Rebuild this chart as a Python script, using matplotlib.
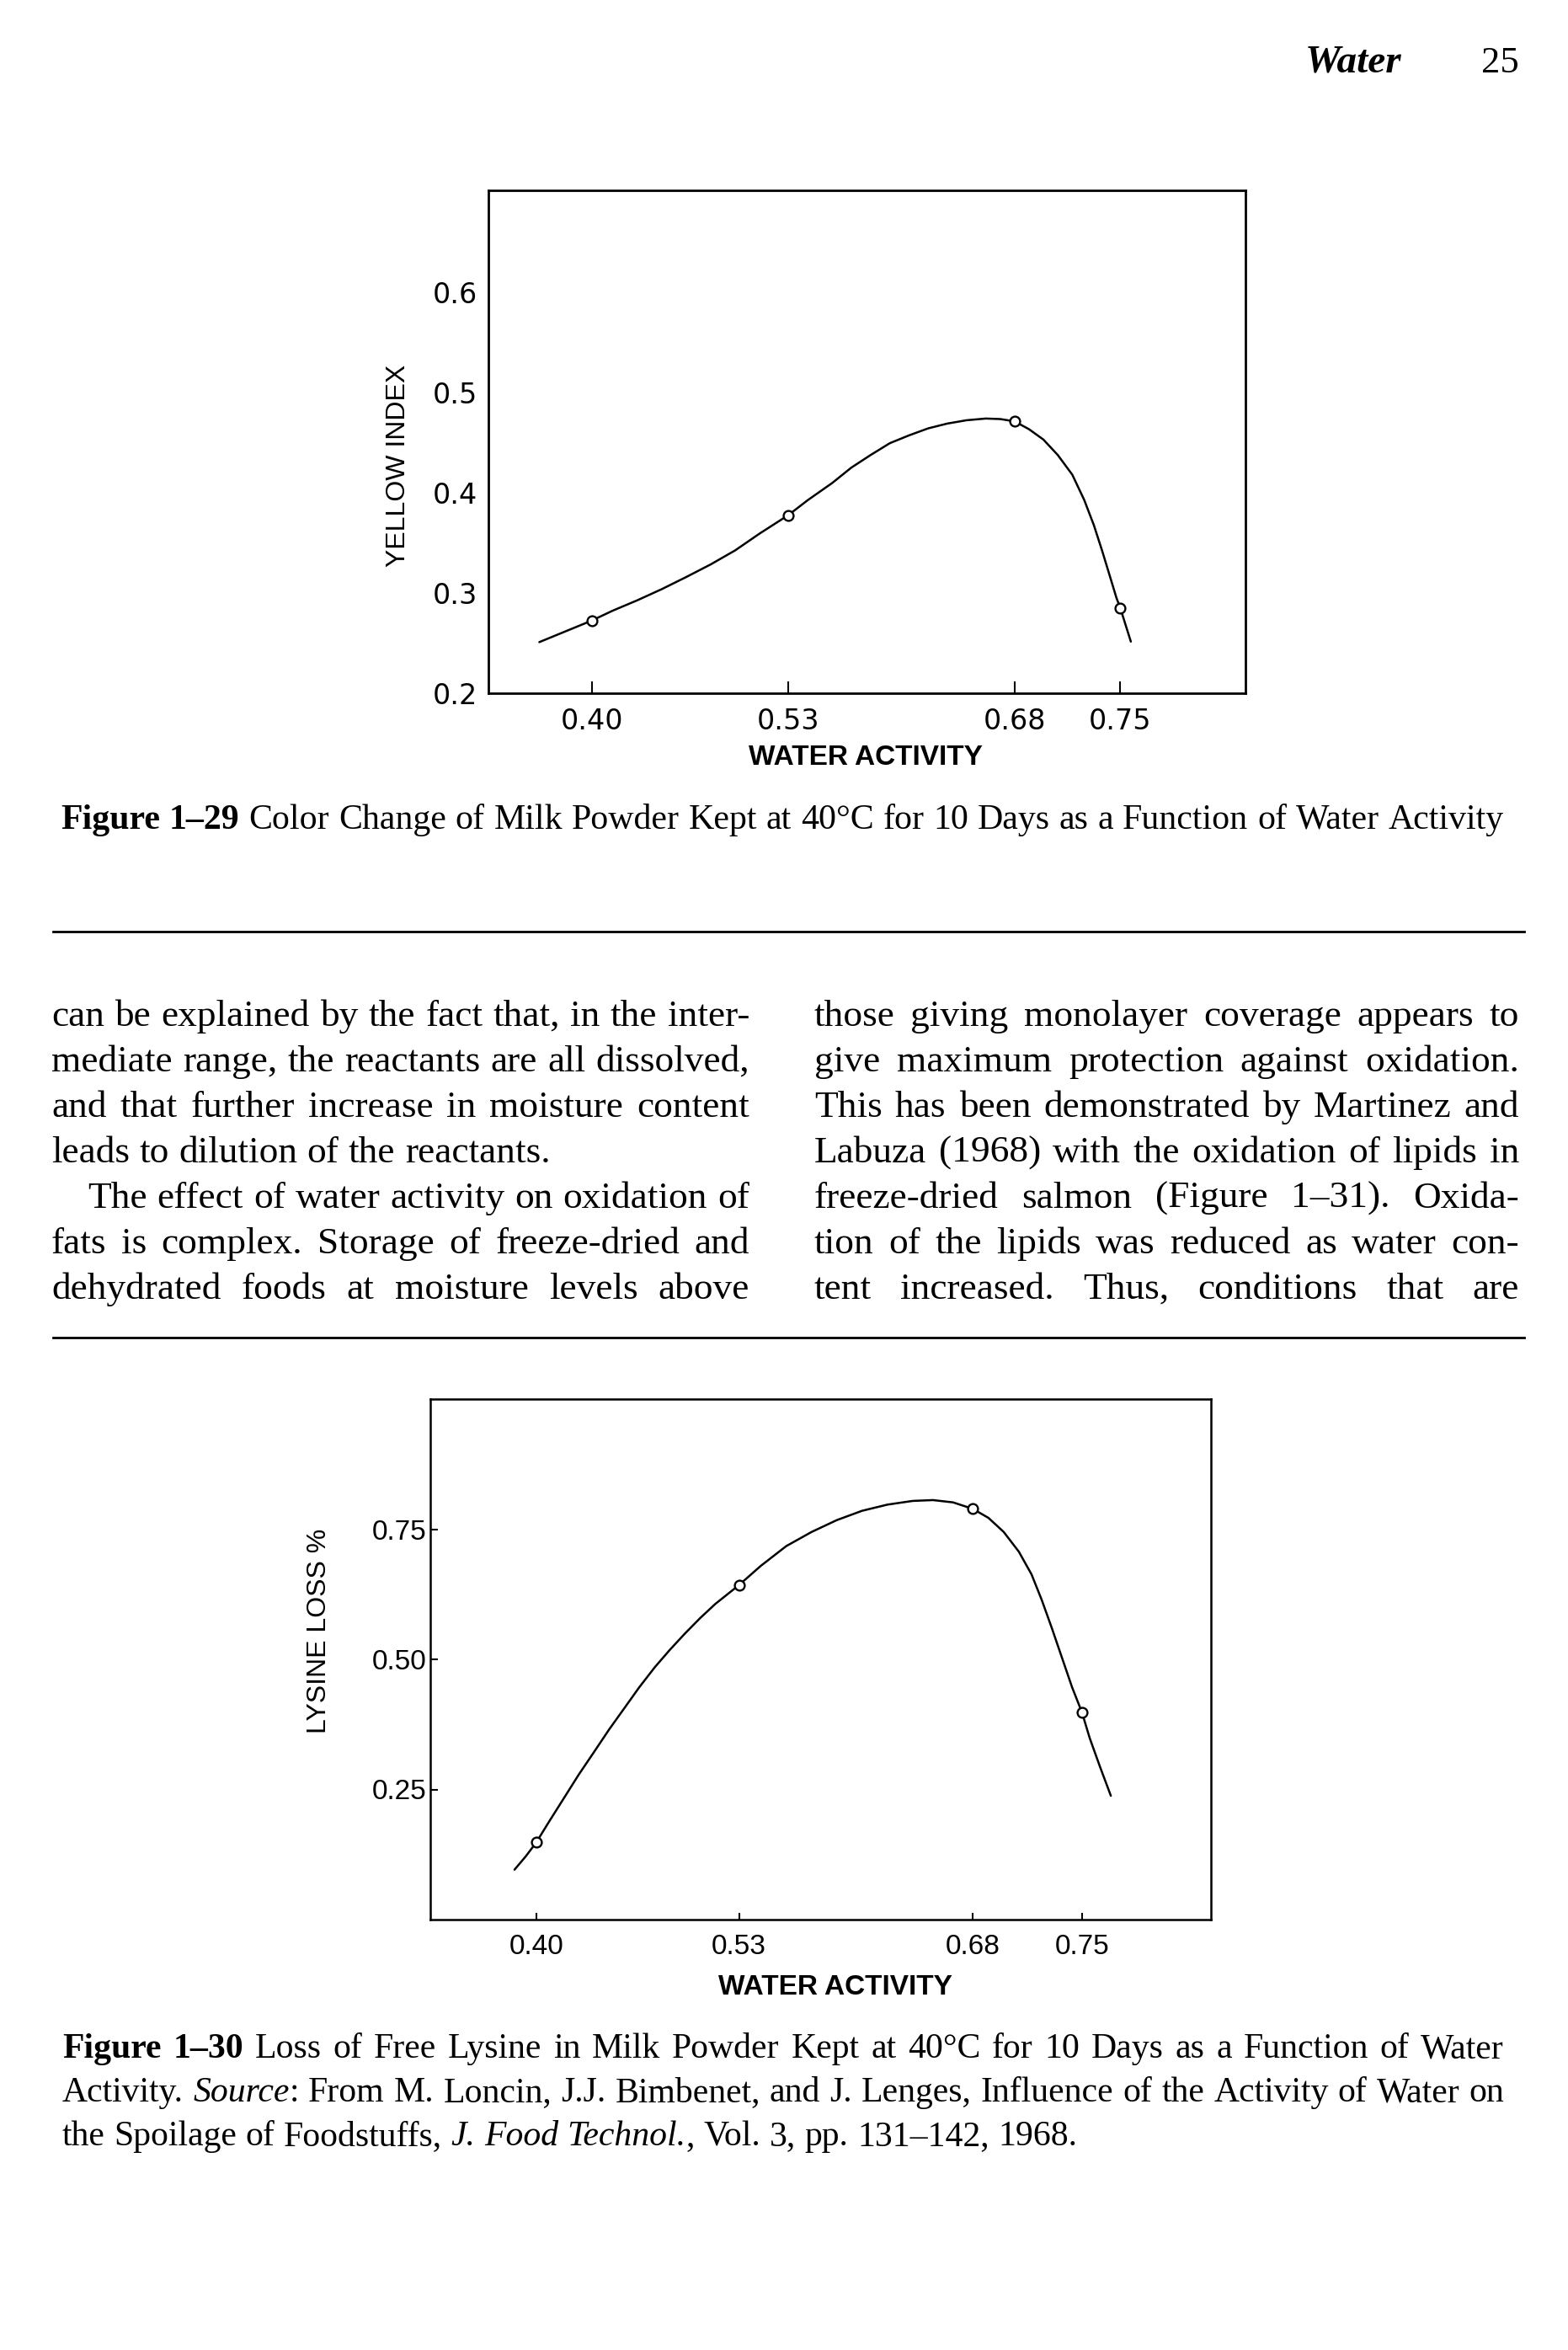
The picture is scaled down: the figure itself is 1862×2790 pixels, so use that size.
import numpy as np
import matplotlib.pyplot as plt
from matplotlib.lines import Line2D

W, H = 1862, 2790
SERIF = 'Liberation Serif'
SANS = ['Liberation Sans']
WIDE = ['DejaVu Sans']
NARROW = ['Liberation Sans Narrow', 'Liberation Sans']

# ---- data ----
aw_ticks = [0.40, 0.53, 0.68, 0.75]
aw_labels = ['0.40', '0.53', '0.68', '0.75']

# Figure 1-29: yellow index
yellow_pts = [0.2725, 0.3776, 0.4714, 0.2851]
yellow_curve_x = [0.3653, 0.4000, 0.4139, 0.4301, 0.4464, 0.4626, 0.4788, 0.4950,
                  0.5112, 0.5300, 0.5433, 0.5592, 0.5719, 0.5847, 0.5974, 0.6101,
                  0.6228, 0.6355, 0.6482, 0.6609, 0.6705, 0.6800, 0.6895, 0.6991,
                  0.7086, 0.7182, 0.7261, 0.7325, 0.7379, 0.7430, 0.7475, 0.7500,
                  0.7532, 0.7570]
yellow_curve_y = [0.2510, 0.2725, 0.2824, 0.2927, 0.3039, 0.3160, 0.3286, 0.3426,
                  0.3594, 0.3776, 0.3930, 0.4098, 0.4252, 0.4378, 0.4496, 0.4574,
                  0.4644, 0.4692, 0.4725, 0.4742, 0.4737, 0.4714, 0.4636, 0.4532,
                  0.4378, 0.4182, 0.3930, 0.3678, 0.3426, 0.3174, 0.2950, 0.2851,
                  0.2697, 0.2515]
yellow_yticks = [0.2, 0.3, 0.4, 0.5, 0.6]
yellow_ylabels = ['0.2', '0.3', '0.4', '0.5', '0.6']

# Figure 1-30: lysine loss
lysine_pts = [0.1484, 0.6427, 0.7890, 0.3978]
lysine_curve_x = [0.3860, 0.3932, 0.4000, 0.4078, 0.4175, 0.4272, 0.4370, 0.4467,
                  0.4564, 0.4661, 0.4759, 0.4856, 0.4953, 0.5051, 0.5148, 0.5300,
                  0.5440, 0.5603, 0.5765, 0.5927, 0.6089, 0.6252, 0.6414, 0.6544,
                  0.6673, 0.6800, 0.6900, 0.6998, 0.7095, 0.7176, 0.7241, 0.7306,
                  0.7371, 0.7436, 0.7500, 0.7549, 0.7614, 0.7685]
lysine_curve_y = [0.0959, 0.1214, 0.1484, 0.1864, 0.2324, 0.2785, 0.3219, 0.3653,
                  0.4059, 0.4466, 0.4845, 0.5181, 0.5495, 0.5793, 0.6064, 0.6427,
                  0.6796, 0.7175, 0.7446, 0.7674, 0.7853, 0.7972, 0.8043, 0.8059,
                  0.8015, 0.7890, 0.7717, 0.7446, 0.7067, 0.6633, 0.6146, 0.5604,
                  0.5035, 0.4466, 0.3978, 0.3490, 0.2947, 0.2378]
lysine_yticks = [0.25, 0.50, 0.75]
lysine_ylabels = ['0.25', '0.50', '0.75']

caption_29 = ["**Figure 1\u201329** Color Change of Milk Powder Kept at 40\u00b0C for 10 Days as a Function of Water Activity"]
caption_30 = [
    "**Figure 1\u201330** Loss of Free Lysine in Milk Powder Kept at 40\u00b0C for 10 Days as a Function of Water",
    "Activity. *Source*: From M. Loncin, J.J. Bimbenet, and J. Lenges, Influence of the Activity of Water on",
    "the Spoilage of Foodstuffs, *J. Food Technol.*, Vol. 3, pp. 131\u2013142, 1968.",
]
left_col = [
    "can be explained by the fact that, in the inter-",
    "mediate range, the reactants are all dissolved,",
    "and that further increase in moisture content",
    "leads to dilution of the reactants.",
    "The effect of water activity on oxidation of",
    "fats is complex. Storage of freeze-dried and",
    "dehydrated foods at moisture levels above",
]
left_last = [False, False, False, True, False, False, False]
left_indent = [0, 0, 0, 0, 43, 0, 0]
right_col = [
    "those giving monolayer coverage appears to",
    "give maximum protection against oxidation.",
    "This has been demonstrated by Martinez and",
    "Labuza (1968) with the oxidation of lipids in",
    "freeze-dried salmon (Figure 1\u201331). Oxida-",
    "tion of the lipids was reduced as water con-",
    "tent increased. Thus, conditions that are",
]

fig = plt.figure(figsize=(W / 100, H / 100), dpi=100)
fig.patch.set_facecolor('white')
renderer = fig.canvas.get_renderer()


def fx(px):
    return px / W


def fy(py):
    return 1 - py / H


# ---- text helpers (page text is justified like the book) ----
def runs_of(line):
    runs, buf, bold, ital, i = [], '', False, False, 0
    while i < len(line):
        if line.startswith('**', i):
            if buf:
                runs.append((buf, bold, ital))
                buf = ''
            bold = not bold
            i += 2
        elif line[i] == '*':
            if buf:
                runs.append((buf, bold, ital))
                buf = ''
            ital = not ital
            i += 1
        else:
            buf += line[i]
            i += 1
    if buf:
        runs.append((buf, bold, ital))
    return runs


def words_of(line):
    words = [[]]
    for txt, b, it in runs_of(line):
        for k, p in enumerate(txt.split(' ')):
            if k > 0:
                words.append([])
            if p:
                words[-1].append((p, b, it))
    return [w for w in words if w]


def style(p, size):
    return dict(fontsize=size, family=SERIF,
                weight='bold' if p[1] else 'normal',
                style='italic' if p[2] else 'normal')


def width_of(txt, kw):
    t = fig.text(0, 0, txt, **kw)
    w = t.get_window_extent(renderer).width
    t.remove()
    return w


def space_w(size):
    kw = dict(fontsize=size, family=SERIF)
    return width_of('x x', kw) - width_of('xx', kw)


def natural(line, size):
    words = words_of(line)
    ws = sum(width_of(p[0], style(p, size)) for w in words for p in w)
    return ws + (len(words) - 1) * space_w(size)


def fit_size(lines, target, test=20.0):
    return min(test * target / natural(l, test) for l in lines) * 0.995


def draw_line(line, x0, x1, yb, size, justify=True):
    words = words_of(line)
    widths = [[width_of(p[0], style(p, size)) for p in w] for w in words]
    total = sum(sum(w) for w in widths)
    if justify and len(words) > 1:
        gap = (x1 - x0 - total) / (len(words) - 1)
    else:
        gap = space_w(size)
    x = x0
    for w, ws in zip(words, widths):
        for p, pw in zip(w, ws):
            fig.text(fx(x), fy(yb), p[0], ha='left', va='baseline',
                     color='black', **style(p, size))
            x += pw
        x += gap


def rule(y, x0=63, x1=1810, lw=2.0):
    fig.add_artist(Line2D([fx(x0), fx(x1)], [fy(y), fy(y)], color='black',
                          lw=lw, transform=fig.transFigure))


# ---- running head ----
fig.text(fx(1550), fy(86), 'Water', family=SERIF, weight='bold', style='italic',
         fontsize=34, ha='left', va='baseline')
fig.text(fx(1804), fy(86), '25', family=SERIF, fontsize=32, ha='right', va='baseline')

# ---- Figure 1-29 ----
ax1 = fig.add_axes([fx(580), fy(823), (1479 - 580) / W, (823 - 226) / H])
ax1.plot(yellow_curve_x, yellow_curve_y, color='black', lw=1.8,
         solid_joinstyle='round', solid_capstyle='round')
ax1.plot(aw_ticks, yellow_pts, 'o', ms=8.5, mfc='white', mec='black', mew=1.7)
ax1.set_xlim(0.3316, 0.8329)
ax1.set_ylim(0.2, 0.702)
ax1.set_xticks(aw_ticks)
ax1.set_xticklabels(aw_labels, family=WIDE, fontsize=24)
ax1.set_yticks(yellow_yticks)
ax1.set_yticklabels(yellow_ylabels, family=WIDE, fontsize=24)
ax1.tick_params(axis='x', direction='in', length=10, width=1.5, pad=12)
ax1.tick_params(axis='y', length=0, pad=9)
for s in ax1.spines.values():
    s.set_linewidth(2.0)
fig.text(fx(473), fy(553), 'YELLOW INDEX', family=SANS, fontsize=23,
         rotation=90, ha='center', va='center')
fig.text(fx(1028), fy(899), 'WATER ACTIVITY', family=NARROW, weight='bold',
         fontsize=24, ha='center', va='center')

cap_size = fit_size(caption_29, 1786 - 72)
draw_line(caption_29[0], 72, 1786, 984, cap_size, justify=True)

# ---- body text ----
rule(1106)
body_size = fit_size([l for l, last in zip(left_col, left_last) if not last], 890 - 61)
body_size = min(body_size, fit_size(right_col, 1804 - 967))
for i, (line, last, ind) in enumerate(zip(left_col, left_last, left_indent)):
    draw_line(line, 61 + ind, 890, 1218 + i * 54, body_size, justify=not last)
for i, line in enumerate(right_col):
    draw_line(line, 967, 1804, 1218 + i * 54, body_size, justify=True)
rule(1588)

# ---- Figure 1-30 ----
ax2 = fig.add_axes([fx(511), fy(2279), (1438 - 511) / W, (2279 - 1661) / H])
ax2.plot(lysine_curve_x, lysine_curve_y, color='black', lw=1.8,
         solid_joinstyle='round', solid_capstyle='round')
ax2.plot(aw_ticks, lysine_pts, 'o', ms=8.5, mfc='white', mec='black', mew=1.7)
ax2.set_xlim(0.332, 0.8327)
ax2.set_ylim(0.0, 1.0)
ax2.set_xticks(aw_ticks)
ax2.set_xticklabels(aw_labels, family=NARROW, fontsize=24)
ax2.set_yticks(lysine_yticks)
ax2.set_yticklabels(lysine_ylabels, family=NARROW, fontsize=24)
ax2.tick_params(axis='x', direction='in', length=6, width=1.5, pad=12)
ax2.tick_params(axis='y', direction='in', length=6.5, width=1.5, pad=3.5)
for s in ax2.spines.values():
    s.set_linewidth(1.8)
fig.text(fx(379), fy(1936), 'LYSINE LOSS %', family=SANS, fontsize=23,
         rotation=90, ha='center', va='center')
fig.text(fx(992), fy(2360), 'WATER ACTIVITY', family=NARROW, weight='bold',
         fontsize=24, ha='center', va='center')

cap30_size = fit_size(caption_30[:2], 1786 - 74)
for i, line in enumerate(caption_30):
    draw_line(line, 74, 1786, 2443 + i * 52, cap30_size, justify=(i < 2))

fig.savefig('out.png', dpi=100, facecolor='white')
